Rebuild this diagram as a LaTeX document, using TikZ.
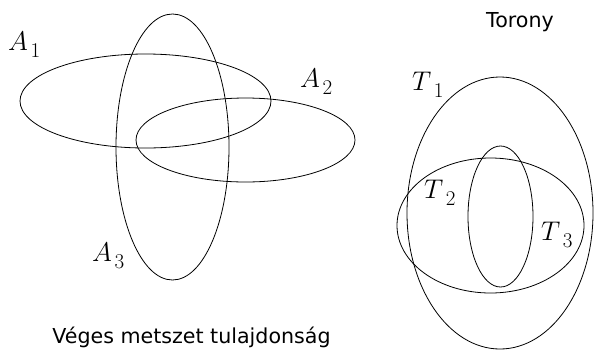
\RequirePackage{fix-cm}
\documentclass[tikz,border=0pt]{standalone}
\usepackage{fontspec}
\newfontfamily\capfont{DejaVu Sans}
\usetikzlibrary{shapes.geometric}
\newcommand{\setlab}[2]{{\fontsize{27}{32}\selectfont$#1$}\kern2.5pt\raisebox{-7.5pt}{\fontsize{21}{24}\selectfont #2}}
\tikzset{
  setshape/.style={draw, ellipse, line width=0.8pt, inner sep=0pt, minimum width=#1},
  lab/.style={anchor=base west, inner sep=0pt},
  captext/.style={anchor=base, inner sep=0pt, font=\capfont\fontsize{20.6}{24}\selectfont}
}
\begin{document}
\begin{tikzpicture}[x=1pt, y=-1pt]
\useasboundingbox (0,0) rectangle (594,349);
% left figure
\node[setshape=251pt, minimum height=94pt] (A1) at (145.5,101) {};
\node[setshape=219pt, minimum height=84pt] (A2) at (245.5,140) {};
\node[setshape=113pt, minimum height=266pt] (A3) at (172.5,147) {};
\node[lab] (lA1) at (8,50) {\setlab{A}{1}};
\node[lab] (lA2) at (300,87) {\setlab{A}{2}};
\node[lab] (lA3) at (92,261) {\setlab{A}{3}};
\node[captext] (c1) at (191.5,343) {Véges metszet tulajdonság};
% right figure
\node[setshape=186pt, minimum height=272pt] (T1) at (500,213) {};
\node[setshape=187pt, minimum height=135pt] (T3) at (490.5,225.5) {};
\node[setshape=65pt, minimum height=141pt] (T2) at (500.5,216.5) {};
\node[lab] (lT1) at (412,90) {\setlab{T}{1}};
\node[lab] (lT2) at (424,198) {\setlab{T}{2}};
\node[lab] (lT3) at (541,240) {\setlab{T}{3}};
\node[captext] (c2) at (520,27) {Torony};
\end{tikzpicture}
\end{document}
